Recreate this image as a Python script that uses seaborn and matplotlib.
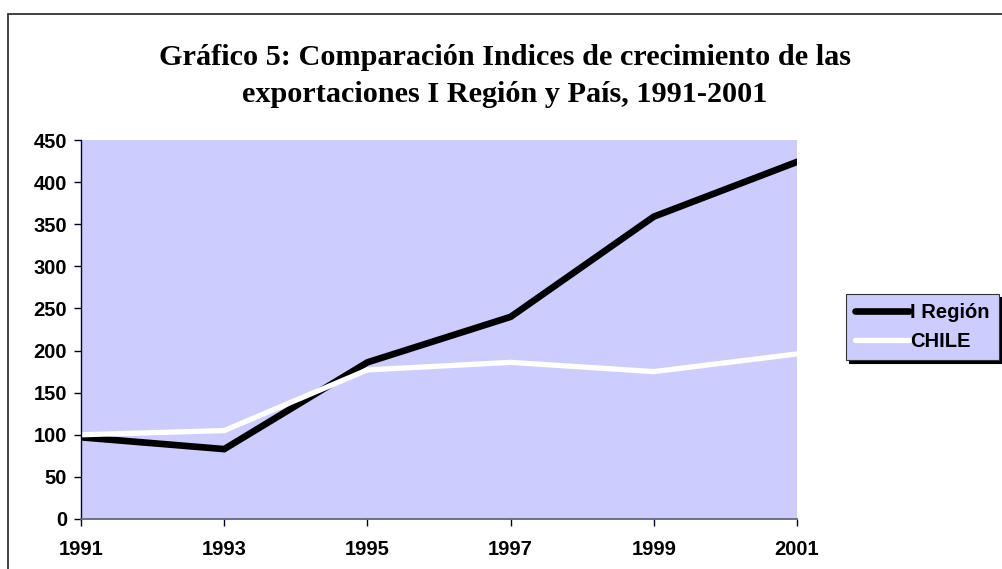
import pandas as pd
import numpy as np
import matplotlib
matplotlib.use('Agg')
import matplotlib.pyplot as plt
import seaborn as sns
from matplotlib.patches import Rectangle

# Data
years = [1991, 1993, 1995, 1997, 1999, 2001]
region_i = [97, 83, 186, 240, 359, 424]
chile = [100, 105, 177, 186, 175, 196]
series_names = ['I Región', 'CHILE']

df = pd.DataFrame({
    'year': years * 2,
    'value': region_i + chile,
    'serie': [series_names[0]] * len(years) + [series_names[1]] * len(years),
})

sns.set_style('white')
plt.rcParams['font.family'] = ['Liberation Sans', 'DejaVu Sans']
plt.rcParams['text.color'] = 'black'

fig = plt.figure(figsize=(10.03, 5.69), dpi=100)
ax = fig.add_axes([81 / 1003, 50 / 569, 716 / 1003, 379 / 569])
ax.set_facecolor('#CCCCFF')

sns.lineplot(data=df, x='year', y='value', hue='serie', hue_order=series_names,
             palette=['black', 'white'], ax=ax, legend=False)
ax.lines[0].set_linewidth(4.8)
ax.lines[1].set_linewidth(3.8)
for ln in ax.lines:
    ln.set_solid_joinstyle('miter')

ax.set_xlim(1991, 2001)
ax.set_ylim(0, 450)
ax.set_xticks(years)
ax.set_yticks(np.arange(0, 451, 50))
ax.set_xlabel('')
ax.set_ylabel('')
ax.tick_params(axis='both', labelsize=14.5, direction='out', length=5, width=1,
               left=True, bottom=True, colors='#000033')
for lab in ax.get_xticklabels() + ax.get_yticklabels():
    lab.set_fontweight('bold')
    lab.set_color('black')
ax.tick_params(axis='x', pad=10)
ax.tick_params(axis='y', pad=5)

for s in ['top', 'right']:
    ax.spines[s].set_visible(False)
ax.spines['left'].set_color('#000033')
ax.spines['left'].set_linewidth(1)
ax.spines['bottom'].set_color('#666677')
ax.spines['bottom'].set_linewidth(1.3)

# legend
handles = [plt.Line2D([], [], color='black', lw=4.8, solid_capstyle='round'),
           plt.Line2D([], [], color='white', lw=3.8, solid_capstyle='round')]
leg = fig.legend(handles, series_names, loc='upper left',
                 bbox_to_anchor=(846 / 1003, 1 - 294 / 569),
                 prop={'weight': 'bold', 'size': 14.5},
                 frameon=True, fancybox=False, shadow={'color': 'black', 'alpha': 1},
                 handlelength=2.7, handletextpad=0.05, borderpad=0.45,
                 labelspacing=0.5, borderaxespad=0)
leg.get_frame().set_facecolor('#CCCCFF')
leg.get_frame().set_edgecolor('#333333')
leg.get_frame().set_linewidth(0.8)
leg.get_frame().set_alpha(1)
for t in leg.get_texts():
    t.set_color('black')

fig.text(0.503, 1 - 76 / 569,
         'Gráfico 5: Comparación Indices de crecimiento de las\nexportaciones I Región y País, 1991-2001',
         ha='center', va='center', fontsize=21.8, fontweight='bold', color='black',
         family=['Liberation Serif', 'DejaVu Serif'], linespacing=1.45)

# chart frame
fig.patches.append(Rectangle((8 / 1003, -0.05), 1.2, 1.05 - 14 / 569,
                             transform=fig.transFigure, fill=False,
                             edgecolor='#333333', linewidth=1.3))

fig.savefig('out.png', dpi=100)
